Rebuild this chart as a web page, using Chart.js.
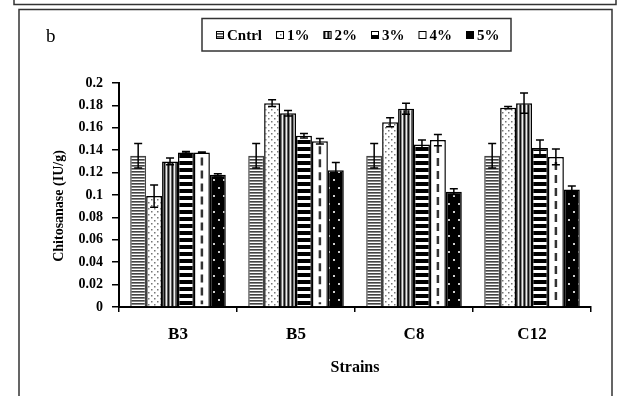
<!DOCTYPE html>
<html>
<head>
<meta charset="utf-8">
<script src="https://cdn.jsdelivr.net/npm/chart.js@4.4.1/dist/chart.umd.min.js"></script>
<style>
html, body { margin: 0; padding: 0; background: #fff; }
canvas { display: block; }
</style>
</head>
<body>
<canvas id="chitosanaseChart" width="626" height="396"></canvas>
<script>
"use strict";

var strains = ['B3', 'B5', 'C8', 'C12'];
var seriesNames = ['Cntrl', '1%', '2%', '3%', '4%', '5%'];

// chitosanase activity (IU/g)
var cntrl = [0.135, 0.135, 0.135, 0.135];
var pct1 = [0.099, 0.182, 0.165, 0.178];
var pct2 = [0.130, 0.173, 0.177, 0.182];
var pct3 = [0.138, 0.153, 0.145, 0.142];
var pct4 = [0.138, 0.148, 0.149, 0.134];
var pct5 = [0.118, 0.122, 0.103, 0.105];

// error bar half-lengths
var cntrlErr = [0.011, 0.011, 0.011, 0.011];
var pct1Err = [0.010, 0.003, 0.004, 0.001];
var pct2Err = [0.003, 0.0025, 0.005, 0.009];
var pct3Err = [0.0008, 0.002, 0.004, 0.007];
var pct4Err = [0.0005, 0.0025, 0.005, 0.007];
var pct5Err = [0.001, 0.007, 0.0025, 0.003];

var yTicks = [0, 0.02, 0.04, 0.06, 0.08, 0.1, 0.12, 0.14, 0.16, 0.18, 0.2];

var SERIF = "'Liberation Serif', 'Times New Roman', serif";

function makePattern(w, h, paint) {
	var c = document.createElement('canvas');
	c.width = w;
	c.height = h;
	var g = c.getContext('2d');
	paint(g);
	return g.createPattern(c, 'repeat');
}

var hStripes = makePattern(1, 3, function (g) {
	g.fillStyle = '#fff'; g.fillRect(0, 0, 1, 3);
	g.fillStyle = '#444'; g.fillRect(0, 0, 1, 1);
	g.fillStyle = '#888'; g.fillRect(0, 1, 1, 1);
});
var dots = makePattern(6, 6, function (g) {
	g.fillStyle = '#fff'; g.fillRect(0, 0, 6, 6);
	g.fillStyle = '#777';
	g.fillRect(1, 1, 1.5, 1.5);
	g.fillRect(4, 4, 1.5, 1.5);
});
var vStripes = makePattern(4, 1, function (g) {
	g.fillStyle = '#111'; g.fillRect(0, 0, 1, 1);
	g.fillStyle = '#888'; g.fillRect(1, 0, 1, 1);
	g.fillStyle = '#eee'; g.fillRect(2, 0, 1, 1);
	g.fillStyle = '#666'; g.fillRect(3, 0, 1, 1);
});
var wideStripes = makePattern(1, 7, function (g) {
	g.fillStyle = '#fff'; g.fillRect(0, 0, 1, 7);
	g.fillStyle = '#000'; g.fillRect(0, 0, 1, 4);
});
var blackDots = makePattern(10, 16, function (g) {
	g.fillStyle = '#000'; g.fillRect(0, 0, 10, 16);
	g.fillStyle = '#ccc';
	g.fillRect(3, 3, 2, 2);
	g.fillRect(8, 11, 2, 2);
});

var values = [cntrl, pct1, pct2, pct3, pct4, pct5];
var errors = [cntrlErr, pct1Err, pct2Err, pct3Err, pct4Err, pct5Err];
var fills = [hStripes, dots, vStripes, wideStripes, '#fff', blackDots];
var borders = ['#444', '#000', '#000', '#000', '#000', '#000'];

var datasets = seriesNames.map(function (name, i) {
	return {
		label: name,
		data: values[i],
		errors: errors[i],
		backgroundColor: fills[i],
		borderColor: borders[i],
		borderWidth: 1.5,
		borderSkipped: 'bottom',
		barPercentage: 1,
		categoryPercentage: 0.81
	};
});

// frames, panel letter, legend and y title
var decorations = {
	id: 'decorations',
	beforeDraw: function (chart) {
		var ctx = chart.ctx;
		ctx.save();
		ctx.strokeStyle = '#333';
		ctx.lineWidth = 1.5;
		ctx.beginPath();
		ctx.moveTo(14, 0); ctx.lineTo(14, 4.5); ctx.lineTo(616, 4.5); ctx.lineTo(616, 0);
		ctx.stroke();
		ctx.strokeRect(19, 9.5, 593, 400);
		ctx.fillStyle = '#000';
		ctx.font = '19px ' + SERIF;
		ctx.textBaseline = 'alphabetic';
		ctx.fillText('b', 46, 42);
		ctx.restore();
	},
	afterDraw: function (chart) {
		var ctx = chart.ctx;
		ctx.save();
		// legend
		ctx.strokeStyle = '#333';
		ctx.lineWidth = 1.5;
		ctx.strokeRect(202, 18.5, 309, 32.5);
		ctx.font = 'bold 15px ' + SERIF;
		ctx.textBaseline = 'alphabetic';
		var x = 216;
		chart.data.datasets.forEach(function (ds) {
			ctx.fillStyle = ds.backgroundColor;
			ctx.fillRect(x, 31, 8, 8);
			ctx.lineWidth = 1;
			ctx.strokeStyle = '#000';
			ctx.strokeRect(x + 0.5, 31.5, 7, 7);
			ctx.fillStyle = '#000';
			ctx.fillText(ds.label, x + 11, 40);
			x += 11 + ctx.measureText(ds.label).width + 14;
		});
		// y axis title
		ctx.translate(59, 206);
		ctx.rotate(-Math.PI / 2);
		ctx.textAlign = 'center';
		ctx.textBaseline = 'middle';
		ctx.font = 'bold 14px ' + SERIF;
		ctx.fillText('Chitosanase (IU/g)', 0, 0);
		ctx.restore();
	}
};

var errorBars = {
	id: 'errorBars',
	afterDatasetsDraw: function (chart) {
		var ctx = chart.ctx;
		var yScale = chart.scales.y;
		ctx.save();
		// dashed centre line of the 4% bars
		var meta4 = chart.getDatasetMeta(4);
		ctx.strokeStyle = '#333';
		ctx.lineWidth = 2.5;
		ctx.setLineDash([8, 5]);
		meta4.data.forEach(function (bar) {
			ctx.beginPath();
			ctx.moveTo(bar.x, bar.y + 5);
			ctx.lineTo(bar.x, bar.base - 2);
			ctx.stroke();
		});
		ctx.setLineDash([]);
		ctx.strokeStyle = '#000';
		ctx.lineWidth = 1.5;
		chart.data.datasets.forEach(function (ds, i) {
			chart.getDatasetMeta(i).data.forEach(function (bar, j) {
				var hi = yScale.getPixelForValue(ds.data[j] + ds.errors[j]);
				var lo = yScale.getPixelForValue(ds.data[j] - ds.errors[j]);
				ctx.beginPath();
				ctx.moveTo(bar.x, hi); ctx.lineTo(bar.x, lo);
				ctx.moveTo(bar.x - 4, hi); ctx.lineTo(bar.x + 4, hi);
				ctx.moveTo(bar.x - 4, lo); ctx.lineTo(bar.x + 4, lo);
				ctx.stroke();
			});
		});
		ctx.restore();
	}
};

new Chart(document.getElementById('chitosanaseChart'), {
	type: 'bar',
	data: { labels: strains, datasets: datasets },
	plugins: [decorations, errorBars],
	options: {
		responsive: false,
		animation: false,
		layout: { padding: { left: 20, right: 35, top: 83, bottom: 19 } },
		plugins: {
			legend: { display: false },
			tooltip: { enabled: false }
		},
		scales: {
			x: {
				grid: { drawOnChartArea: false, color: '#000', lineWidth: 1.5, tickLength: 5 },
				border: { color: '#000', width: 2 },
				ticks: { color: '#000', padding: 12, font: { family: SERIF, size: 17, weight: 'bold' } },
				title: {
					display: true, text: 'Strains', color: '#000',
					font: { family: SERIF, size: 16, weight: 'bold' },
					padding: { top: 0, bottom: 0 }
				},
				afterFit: function (s) { s.height = 70; }
			},
			y: {
				min: 0,
				max: 0.2,
				afterBuildTicks: function (s) {
					s.ticks = yTicks.map(function (v) { return { value: v }; });
				},
				grid: { drawOnChartArea: false, color: '#000', lineWidth: 1.5, tickLength: 7 },
				border: { color: '#000', width: 2 },
				ticks: {
					color: '#000', padding: 9,
					font: { family: SERIF, size: 14, weight: 'bold' },
					callback: function (v) { return String(v); }
				},
				afterFit: function (s) { s.width = 99; }
			}
		}
	}
});
</script>
</body>
</html>
